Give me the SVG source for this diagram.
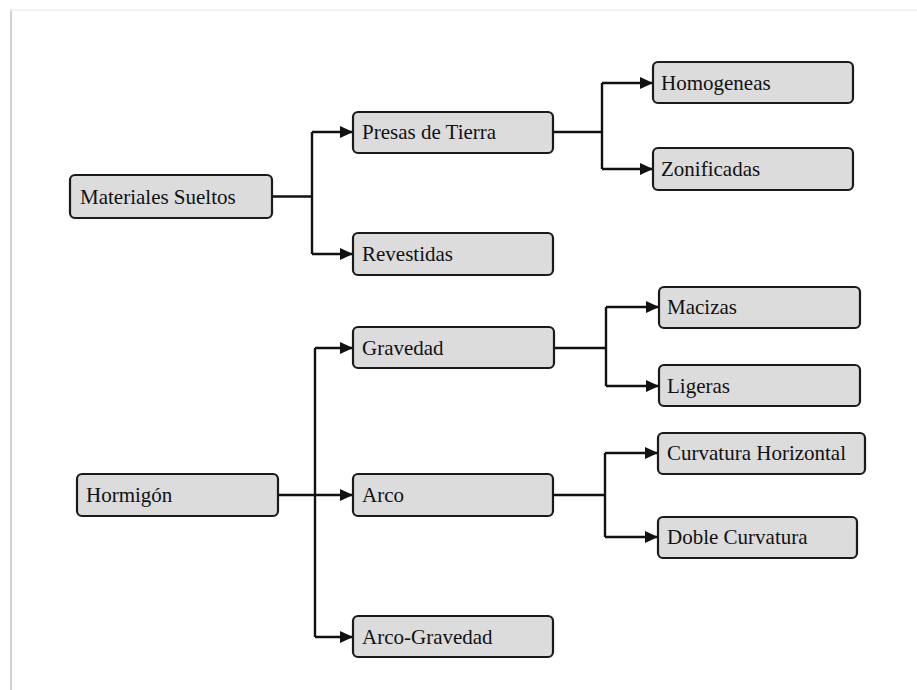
<svg xmlns="http://www.w3.org/2000/svg" width="917" height="690" viewBox="0 0 917 690">
<style>
.box{fill:#dcdcdc;stroke:#1a1a1a;stroke-width:2.2}
.lbl{font-family:"Liberation Serif","Times New Roman",serif;font-size:21px;fill:#111}
.ln{fill:none;stroke:#111;stroke-width:2.4}
</style>
<defs>
<marker id="ah" markerWidth="13" markerHeight="12" refX="13" refY="6" orient="auto" markerUnits="userSpaceOnUse">
<path d="M0,0 L13,6 L0,12 Z" fill="#111"/>
</marker>
</defs>
<rect width="917" height="690" fill="#ffffff"/>
<line x1="11" y1="10" x2="11" y2="690" stroke="#d0d0d0" stroke-width="2"/>
<line x1="10" y1="10" x2="917" y2="10" stroke="#ececec" stroke-width="1.5"/>
<g id="connectors">
<path class="ln" d="M272,196.5 H312"/>
<path class="ln" d="M312,132 V254"/>
<path class="ln" d="M312,132 H353" marker-end="url(#ah)"/>
<path class="ln" d="M312,254 H353" marker-end="url(#ah)"/>
<path class="ln" d="M553,132 H602"/>
<path class="ln" d="M602,83 V169"/>
<path class="ln" d="M602,83 H653" marker-end="url(#ah)"/>
<path class="ln" d="M602,169 H653" marker-end="url(#ah)"/>
<path class="ln" d="M315,348 V637"/>
<path class="ln" d="M278,495 H353" marker-end="url(#ah)"/>
<path class="ln" d="M315,348 H353" marker-end="url(#ah)"/>
<path class="ln" d="M315,637 H353" marker-end="url(#ah)"/>
<path class="ln" d="M554,348 H606"/>
<path class="ln" d="M606,307 V386"/>
<path class="ln" d="M606,307 H659" marker-end="url(#ah)"/>
<path class="ln" d="M606,386 H659" marker-end="url(#ah)"/>
<path class="ln" d="M553,495 H605"/>
<path class="ln" d="M605,453 V537"/>
<path class="ln" d="M605,453 H658" marker-end="url(#ah)"/>
<path class="ln" d="M605,537 H658" marker-end="url(#ah)"/>
</g>
<g id="materiales-sueltos"><rect class="box" x="70" y="175" width="202" height="43" rx="5"/><text class="lbl" x="80" y="204">Materiales Sueltos</text></g>
<g id="presas-de-tierra"><rect class="box" x="353" y="112" width="200" height="41" rx="5"/><text class="lbl" x="362" y="139">Presas de Tierra</text></g>
<g id="revestidas"><rect class="box" x="353" y="233" width="200" height="42" rx="5"/><text class="lbl" x="362" y="261">Revestidas</text></g>
<g id="homogeneas"><rect class="box" x="653" y="62" width="200" height="41" rx="5"/><text class="lbl" x="661" y="90">Homogeneas</text></g>
<g id="zonificadas"><rect class="box" x="653" y="148" width="200" height="42" rx="5"/><text class="lbl" x="661" y="176">Zonificadas</text></g>
<g id="hormigon"><rect class="box" x="77" y="474" width="201" height="42" rx="5"/><text class="lbl" x="86" y="502">Hormigón</text></g>
<g id="gravedad"><rect class="box" x="353" y="327" width="201" height="41" rx="5"/><text class="lbl" x="362" y="355">Gravedad</text></g>
<g id="arco"><rect class="box" x="353" y="474" width="200" height="42" rx="5"/><text class="lbl" x="362" y="502">Arco</text></g>
<g id="arco-gravedad"><rect class="box" x="353" y="616" width="200" height="41" rx="5"/><text class="lbl" x="362" y="644">Arco-Gravedad</text></g>
<g id="macizas"><rect class="box" x="659" y="287" width="201" height="41" rx="5"/><text class="lbl" x="667" y="314">Macizas</text></g>
<g id="ligeras"><rect class="box" x="659" y="365" width="201" height="41" rx="5"/><text class="lbl" x="667" y="393">Ligeras</text></g>
<g id="curvatura-horizontal"><rect class="box" x="658" y="433" width="207" height="41" rx="5"/><text class="lbl" x="667" y="460">Curvatura Horizontal</text></g>
<g id="doble-curvatura"><rect class="box" x="658" y="517" width="199" height="41" rx="5"/><text class="lbl" x="667" y="544">Doble Curvatura</text></g>
</svg>
